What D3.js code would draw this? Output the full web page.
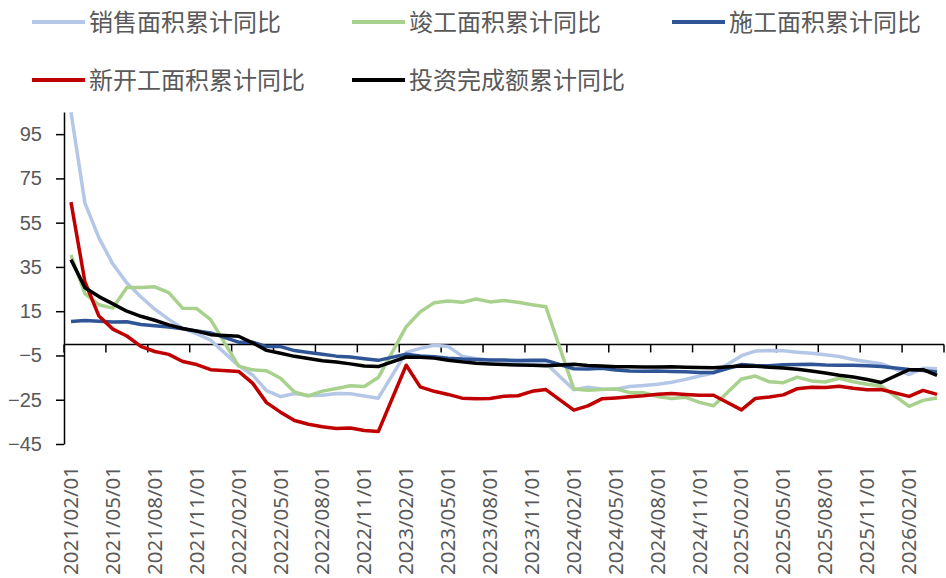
<!DOCTYPE html>
<html>
<head>
<meta charset="utf-8">
<script src="https://cdn.jsdelivr.net/npm/d3@7"></script>
<style>
  body { margin: 0; background: #fff; }
  text { font-family: "Noto Sans CJK SC", "Noto Sans", sans-serif; fill: #595959; }
</style>
</head>
<body>
<div id="chart"></div>
<script>
// Monthly categories, 2021/02 .. 2026/04 (January has no cumulative value -> null).
const months = d3.timeMonths(new Date(2021, 1, 1), new Date(2026, 4, 1));
const tickLabels = ["2021/02/01","2021/05/01","2021/08/01","2021/11/01","2022/02/01","2022/05/01",
  "2022/08/01","2022/11/01","2023/02/01","2023/05/01","2023/08/01","2023/11/01","2024/02/01",
  "2024/05/01","2024/08/01","2024/11/01","2025/02/01","2025/05/01","2025/08/01","2025/11/01","2026/02/01"];
const yTicks = [-45, -25, -5, 15, 35, 55, 75, 95];

const sales = [104.9,63.8,48.1,36.3,27.7,21.5,15.9,11.3,7.3,4.8,1.9,
  null,-9.6,-13.8,-20.9,-23.6,-22.2,-23.1,-23.0,-22.2,-22.3,-23.3,-24.3,
  null,-3.6,-1.8,-0.4,-0.9,-5.3,-6.5,-7.1,-7.5,-7.8,-8.0,-8.5,
  null,-20.5,-19.4,-20.2,-20.3,-19.0,-18.6,-18.0,-17.1,-15.8,-14.3,-12.9,
  null,-5.1,-3.0,-2.8,-2.9,-3.5,-4.0,-4.7,-5.5,-6.8,-7.8,-8.7,
  null,-13.6,-10.8,-11.0];
const completed = [40.4,22.9,17.9,16.4,25.7,25.7,26.0,23.4,16.3,16.2,11.2,
  null,-9.8,-11.5,-11.9,-15.3,-21.5,-23.3,-21.1,-19.9,-18.7,-19.0,-15.0,
  null,8.0,14.7,18.8,19.6,19.0,20.5,19.2,19.8,19.0,17.9,17.0,
  null,-20.2,-20.7,-20.4,-20.1,-21.8,-21.8,-23.6,-24.4,-23.9,-26.2,-27.7,
  null,-15.6,-14.3,-16.9,-17.3,-14.8,-16.5,-17.0,-15.3,-16.9,-18.0,-18.8,
  null,-28.0,-25.3,-24.2];
const underConstruction = [10.4,10.8,10.5,10.1,10.2,9.0,8.4,7.9,7.1,6.1,5.2,
  null,1.0,1.0,-1.0,-1.0,-2.8,-3.7,-4.5,-5.3,-5.7,-6.5,-7.2,
  null,-4.4,-5.2,-5.6,-6.2,-6.6,-6.8,-7.1,-7.1,-7.3,-7.2,-7.2,
  null,-11.0,-11.1,-10.8,-11.6,-12.0,-12.1,-12.0,-12.2,-12.4,-12.7,-12.7,
  null,-9.1,-9.5,-9.7,-9.2,-9.1,-9.0,-9.3,-9.4,-9.4,-9.6,-10.0,
  null,-11.3,-11.8,-12.5];
const newStarts = [64.3,28.2,12.8,6.9,3.8,-0.9,-3.2,-4.5,-7.7,-9.1,-11.4,
  null,-12.2,-17.5,-26.3,-30.6,-34.4,-36.1,-37.2,-38.0,-37.8,-38.9,-39.4,
  null,-9.4,-19.2,-21.2,-22.6,-24.3,-24.5,-24.4,-23.4,-23.2,-21.2,-20.4,
  null,-29.7,-27.8,-24.6,-24.2,-23.7,-23.2,-22.5,-22.2,-22.6,-23.0,-23.0,
  null,-29.6,-24.4,-23.8,-22.8,-20.0,-19.4,-19.5,-18.9,-19.8,-20.5,-20.4,
  null,-23.5,-20.8,-22.6];
const investment = [38.3,25.6,21.6,18.3,15.0,12.7,10.9,8.8,7.2,6.0,4.4,
  null,3.7,0.7,-2.7,-4.0,-5.4,-6.4,-7.4,-8.0,-8.8,-9.8,-10.0,
  null,-5.7,-5.8,-6.2,-7.2,-7.9,-8.5,-8.8,-9.1,-9.3,-9.4,-9.6,
  null,-9.0,-9.5,-9.8,-10.1,-10.1,-10.2,-10.2,-10.1,-10.3,-10.4,-10.6,
  null,-9.8,-9.9,-10.3,-10.7,-11.2,-12.0,-12.9,-13.9,-14.7,-15.9,-17.2,
  null,-11.4,-11.4,-14.0];

const seriesNames = ["销售面积累计同比","竣工面积累计同比","施工面积累计同比","新开工面积累计同比","投资完成额累计同比"];
const seriesColors = ["#B4C7E7","#A9D18E","#2F5597","#C00000","#000000"];
const seriesValues = [sales, completed, underConstruction, newStarts, investment];

const fmt = d3.timeFormat("%Y/%m/%d");
const cats = months.map(fmt);

let width = 946, height = 578;
let margin = {top: 112, right: 2, bottom: 134, left: 64};

let svg = d3.select("#chart").append("svg")
    .attr("width", width)
    .attr("height", height);

let x = d3.scaleBand()
    .domain(cats)
    .range([margin.left, width - margin.right]);

let y = d3.scaleLinear()
    .domain([-45, 105])
    .range([height - margin.bottom, margin.top]);

// Y axis
let yAxis = svg.append("g")
    .attr("transform", `translate(${margin.left},0)`)
    .call(d3.axisLeft(y).tickValues(yTicks).tickSize(8).tickPadding(14).tickSizeOuter(0));
yAxis.select(".domain").attr("stroke", "#000").attr("stroke-width", 1.5);
yAxis.selectAll(".tick line").attr("stroke", "#000").attr("stroke-width", 1.5);
yAxis.selectAll(".tick text")
    .style("font-family", "'Liberation Sans', sans-serif")
    .style("font-size", "20px").attr("fill", "#595959");

// X axis line at zero with tick marks between categories
let x0 = y(0);
svg.append("line")
    .attr("x1", margin.left).attr("x2", width - margin.right)
    .attr("y1", x0).attr("y2", x0)
    .attr("stroke", "#000").attr("stroke-width", 1.5);
let tickCats = cats.filter((d, i) => i % 3 === 0);
svg.selectAll(".xtick")
  .data(tickCats.concat(["end"]))
  .join("line")
    .attr("x1", d => d === "end" ? width - margin.right : x(d))
    .attr("x2", d => d === "end" ? width - margin.right : x(d))
    .attr("y1", x0).attr("y2", x0 + 8)
    .attr("stroke", "#000").attr("stroke-width", 1.5);

// Category labels at the bottom, rotated
svg.selectAll(".xlabel")
  .data(tickLabels)
  .join("text")
    .attr("transform", d => `translate(${x(d) + x.bandwidth() / 2 + 7},${height - 3}) rotate(-90)`)
    .attr("text-anchor", "start")
    .style("font-family", "'Noto Sans', sans-serif")
    .style("font-size", "20.5px")
    .text(d => d);

// Lines (January gaps are bridged)
let line = d3.line()
    .x(d => x(d.cat) + x.bandwidth() / 2)
    .y(d => y(d.v));

seriesValues.forEach((vals, k) => {
  let pts = vals.map((v, i) => ({cat: cats[i], v: v})).filter(d => d.v !== null);
  svg.append("path")
    .datum(pts)
    .attr("fill", "none")
    .attr("stroke", seriesColors[k])
    .attr("stroke-width", 3.5)
    .attr("stroke-linejoin", "round")
    .attr("d", line);
});

// Legend
let legendPos = [[32, 22], [352, 22], [672, 22], [32, 80], [352, 80]];
seriesNames.forEach((name, k) => {
  let [lx, ly] = legendPos[k];
  svg.append("line")
    .attr("x1", lx).attr("x2", lx + 53)
    .attr("y1", ly).attr("y2", ly)
    .attr("stroke", seriesColors[k]).attr("stroke-width", 4);
  svg.append("text")
    .attr("x", lx + 57).attr("y", ly)
    .attr("dy", "0.36em")
    .style("font-size", "24px")
    .text(name);
});
</script>
</body>
</html>
